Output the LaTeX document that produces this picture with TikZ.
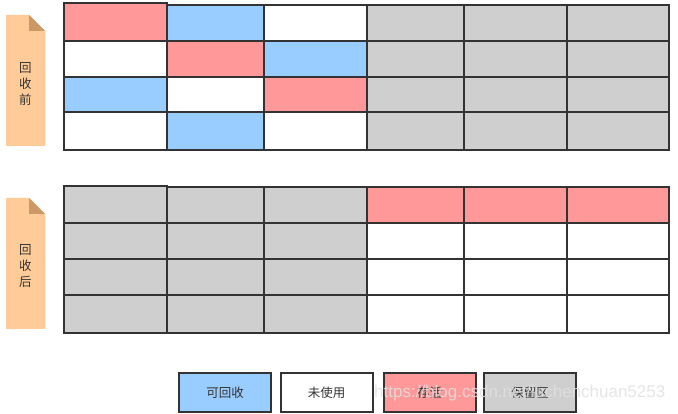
\documentclass[tikz,border=0pt]{standalone}
\usepackage{fontspec}
\setmainfont{Liberation Sans}
\newfontfamily\cjk{Noto Sans CJK SC}
\definecolor{cred}{HTML}{FF9999}
\definecolor{cblue}{HTML}{99CCFF}
\definecolor{cgray}{HTML}{CFCFCF}
\definecolor{cwhite}{HTML}{FFFFFF}
\definecolor{cline}{HTML}{333333}
\definecolor{ctag}{HTML}{FFCC99}
\definecolor{ccorner}{HTML}{CC9966}
\newcommand\cellrow[3]{%
  \foreach \col [count=\c] in {#3} {
    \pgfmathsetmacro\xa{{64,167,264,367,464,567}[\c-1]}
    \pgfmathsetmacro\xb{{167,264,367,464,567,669}[\c-1]}
    \draw[cell, fill=\col] (\xa,#1) rectangle (\xb,#2);
  }}
\begin{document}
\begin{tikzpicture}[x=1pt,y=-1pt,
  cell/.style={draw=cline, line width=2pt},
  tagshape/.style={fill=ctag},
  legendbox/.style={draw=cline, line width=2pt, minimum width=92pt, minimum height=39pt, inner sep=0pt, font=\cjk\fontsize{12.5}{14}\selectfont, text=cline},
  tagtext/.style={font=\cjk\fontsize{12.5}{16}\selectfont, align=center, text=cline, inner sep=0pt}]
\useasboundingbox (0,0) rectangle (678,414);
% top grid
\cellrow{5}{41}{cred,cblue,cwhite,cgray,cgray,cgray}
\cellrow{41}{77}{cwhite,cred,cblue,cgray,cgray,cgray}
\cellrow{77}{112}{cblue,cwhite,cred,cgray,cgray,cgray}
\cellrow{112}{150}{cwhite,cblue,cwhite,cgray,cgray,cgray}
\draw[cell, fill=cred] (64,3) rectangle (167,41);
% bottom grid
\cellrow{187}{223}{cgray,cgray,cgray,cred,cred,cred}
\cellrow{223}{259}{cgray,cgray,cgray,cwhite,cwhite,cwhite}
\cellrow{259}{295}{cgray,cgray,cgray,cwhite,cwhite,cwhite}
\cellrow{295}{333}{cgray,cgray,cgray,cwhite,cwhite,cwhite}
\draw[cell, fill=cgray] (64,186) rectangle (167,223);
% tags
\fill[tagshape] (6,15) -- (29,15) -- (45,31) -- (45,146) -- (6,146) -- cycle;
\fill[ccorner] (29,15) -- (29,31) -- (45,31) -- cycle;
\node[tagtext] (tagbefore) at (25.5,84) {回\\收\\前};
\fill[tagshape] (6,198) -- (29,198) -- (45,214) -- (45,329) -- (6,329) -- cycle;
\fill[ccorner] (29,198) -- (29,214) -- (45,214) -- cycle;
\node[tagtext] (tagafter) at (25.5,266) {回\\收\\后};
% legend
\node[legendbox, fill=cblue] (lg1) at (225,392.5) {可回收};
\node[legendbox, fill=cwhite] (lg2) at (326.5,392.5) {未使用};
\node[legendbox, fill=cred] (lg3) at (429.5,392.5) {存活};
\node[legendbox, fill=cgray] (lg4) at (530,392.5) {保留区};
% watermark
\node[anchor=west, text=black!12, opacity=0.85, font=\fontsize{17}{18}\selectfont, inner sep=0pt] (wm) at (374,393) {https://blog.csdn.net/luchenchuan5253};
\end{tikzpicture}
\end{document}
